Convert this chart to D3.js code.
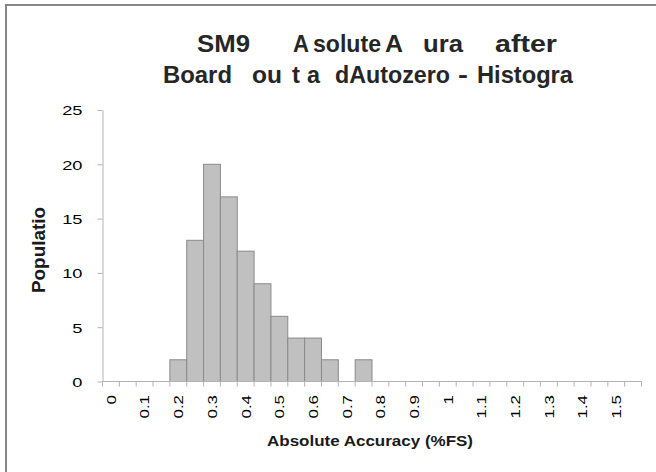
<!DOCTYPE html>
<html>
<head>
<meta charset="utf-8">
<script src="https://cdn.jsdelivr.net/npm/d3@7"></script>
<style>
    body { margin: 0; background: #fff; }
    svg { display: block; }
</style>
</head>
<body>
<script>
// histogram bins (%FS), one every 0.05
var bins = ["0", "0.05", "0.1", "0.15", "0.2", "0.25", "0.3", "0.35", "0.4", "0.45",
            "0.5", "0.55", "0.6", "0.65", "0.7", "0.75", "0.8", "0.85", "0.9", "0.95",
            "1", "1.05", "1.1", "1.15", "1.2", "1.25", "1.3", "1.35", "1.4", "1.45",
            "1.5", "1.55"];
var counts = [0, 0, 0, 0, 2, 13, 20, 17, 12, 9,
              6, 4, 4, 2, 0, 2, 0, 0, 0, 0,
              0, 0, 0, 0, 0, 0, 0, 0, 0, 0,
              0, 0];
// only every other bin gets a label
var xLabels = ["0", "0.1", "0.2", "0.3", "0.4", "0.5", "0.6", "0.7",
               "0.8", "0.9", "1", "1.1", "1.2", "1.3", "1.4", "1.5"];
var yTicks = [0, 5, 10, 15, 20, 25];
// the title as it shows up (some glyphs are missing in the original)
var titleWords1 = ["SM9", "A", "solute", "A", "ura", "after"];
var titleWords2 = ["Board", "ou", "t", "a", "dAutozero", "-", "Histogra"];

var w = 656;
var h = 472;

var svg = d3.select("body")
    .append("svg")
    .attr("width", w)
    .attr("height", h);

// chart border (right and bottom edges fall outside the picture)
svg.append("rect")
    .attr("x", 6)
    .attr("y", 5)
    .attr("width", 800)
    .attr("height", 600)
    .attr("fill", "none")
    .attr("stroke", "#878787")
    .attr("stroke-width", 2);

var xScale = d3.scaleBand()
    .domain(bins)
    .range([102.5, 641.5])
    .padding(0);

var yScale = d3.scaleLinear()
    .domain([0, 25])
    .range([381.5, 110]);

// stretch a text to k times its natural length
function stretch(sel, k) {
    sel.each(function () {
        var len = this.getComputedTextLength();
        d3.select(this)
            .attr("textLength", len * k)
            .attr("lengthAdjust", "spacingAndGlyphs");
    });
}

// bars
svg.selectAll("rect.bar")
    .data(counts)
    .enter()
    .append("rect")
    .attr("class", "bar")
    .attr("x", function (d, i) { return xScale(bins[i]); })
    .attr("y", function (d) { return yScale(d); })
    .attr("width", xScale.bandwidth())
    .attr("height", function (d) { return yScale(0) - yScale(d); })
    .attr("fill", "#c0c0c0")
    .attr("stroke", "#8a8a8a")
    .attr("stroke-width", 1)
    .style("display", function (d) { return d > 0 ? null : "none"; });

// y axis
var yAxis = svg.append("g")
    .attr("transform", "translate(102.5,0)")
    .call(d3.axisLeft(yScale).tickValues(yTicks).tickSize(5).tickSizeOuter(0).tickPadding(15));
yAxis.selectAll("path, line").attr("stroke", "#b3b3b3");
yAxis.selectAll("text")
    .attr("font-family", "Liberation Sans, Arial, sans-serif")
    .attr("font-size", 13.5)
    .attr("fill", "#000")
    .attr("dy", "0.36em")
    .call(stretch, 1.35);

// x axis line and tick marks at bin edges
var xAxis = svg.append("g");
xAxis.append("line")
    .attr("x1", xScale.range()[0])
    .attr("x2", xScale.range()[1])
    .attr("y1", yScale(0))
    .attr("y2", yScale(0))
    .attr("stroke", "#b3b3b3");
xAxis.selectAll("line.tick")
    .data(bins.concat(["end"]))
    .enter()
    .append("line")
    .attr("class", "tick")
    .attr("x1", function (d) { return d === "end" ? xScale.range()[1] : xScale(d); })
    .attr("x2", function (d) { return d === "end" ? xScale.range()[1] : xScale(d); })
    .attr("y1", yScale(0))
    .attr("y2", yScale(0) + 5)
    .attr("stroke", "#b3b3b3");

xAxis.selectAll("text")
    .data(xLabels)
    .enter()
    .append("text")
    .attr("transform", function (d) {
        var c = xScale(d) + xScale.bandwidth() / 2;
        return "translate(" + c + ",395) rotate(-90)";
    })
    .attr("text-anchor", "end")
    .attr("dy", "0.36em")
    .attr("font-family", "Liberation Sans, Arial, sans-serif")
    .attr("font-size", 13.5)
    .attr("fill", "#000")
    .text(function (d) { return d; })
    .call(stretch, 1.25);

// axis titles
svg.append("text")
    .attr("x", 267)
    .attr("y", 446)
    .attr("font-family", "Liberation Sans, Arial, sans-serif")
    .attr("font-weight", "bold")
    .attr("font-size", 15.5)
    .attr("fill", "#1a1a1a")
    .attr("textLength", 206)
    .attr("lengthAdjust", "spacingAndGlyphs")
    .text("Absolute Accuracy (%FS)");

svg.append("text")
    .attr("transform", "translate(45,293) rotate(-90)")
    .attr("font-family", "Liberation Sans Narrow, Liberation Sans, Arial, sans-serif")
    .attr("font-weight", "bold")
    .attr("font-size", 19)
    .attr("fill", "#1a1a1a")
    .attr("textLength", 86)
    .attr("lengthAdjust", "spacingAndGlyphs")
    .text("Populatio");

// chart title: each fragment squeezed into the span it takes in the original
var title1Spans = [[197, 250], [293, 309], [313, 381], [385, 403], [423, 463], [495, 557]];
var title2Spans = [[163, 232], [252, 282], [292, 300], [307, 320], [335, 450], [458, 468], [477, 573]];

function titleLine(words, spans, y) {
    var t = svg.append("text")
        .attr("y", y)
        .attr("font-family", "Liberation Sans Narrow, Liberation Sans, Arial, sans-serif")
        .attr("font-weight", "bold")
        .attr("font-size", 24.5)
        .attr("fill", "#262626");
    t.selectAll("tspan")
        .data(words)
        .enter()
        .append("tspan")
        .attr("x", function (d, i) { return spans[i][0]; })
        .attr("textLength", function (d, i) { return spans[i][1] - spans[i][0]; })
        .attr("lengthAdjust", "spacingAndGlyphs")
        .text(function (d) { return d; });
}
titleLine(titleWords1, title1Spans, 52);
titleLine(titleWords2, title2Spans, 83);
</script>
</body>
</html>
